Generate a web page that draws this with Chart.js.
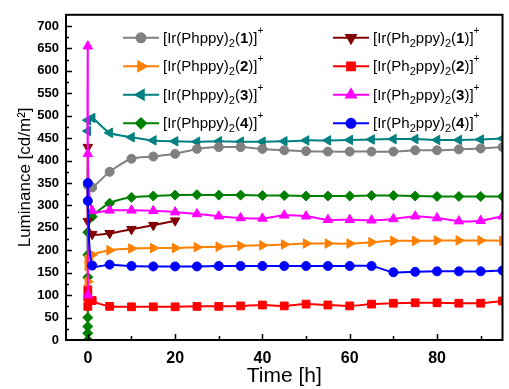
<!DOCTYPE html>
<html>
<head>
<meta charset="utf-8">
<script src="https://cdn.jsdelivr.net/npm/chart.js@4"></script>
<style>
  html, body { margin: 0; padding: 0; background: #fff; }
  #wrap { width: 509px; height: 389px; }
</style>
</head>
<body>
<div id="wrap"><canvas id="lumChart" width="509" height="389"></canvas></div>
<script>
// Time axis (h) shared by every run
const hours = [1, 5, 10, 15, 20, 25, 30, 35, 40, 45, 50, 55, 60, 65, 70, 75, 80, 85, 90, 95];

// Luminance (cd/m2) at those hours
const phppy1 = [340, 375, 404, 409, 415, 426, 430, 430, 426, 423, 421, 420, 420, 420, 420, 423, 423, 425, 427, 430];
const ph2ppy1 = [236, 238, 247, 256, 266]; // device died after ~22 h
const phppy2 = [190, 200, 204, 205, 205, 207, 208, 210, 211, 213, 215, 215, 215, 218, 221, 221, 222, 222, 222, 221];
const ph2ppy2 = [88, 75, 74, 74, 74, 75, 75, 76, 78, 76, 80, 78, 76, 80, 82, 83, 83, 82, 82, 87];
const phppy3 = [495, 462, 452, 445, 443, 442, 443, 442, 442, 443, 445, 445, 446, 447, 448, 448, 446, 446, 447, 449];
const ph2ppy3 = [288, 289, 289, 288, 285, 281, 276, 272, 271, 278, 276, 268, 268, 267, 270, 276, 272, 265, 266, 276];
const phppy4 = [275, 305, 318, 321, 323, 324, 323, 323, 322, 322, 321, 321, 321, 322, 322, 321, 320, 320, 320, 320];
const ph2ppy4 = [166, 168, 165, 164, 164, 164, 165, 165, 165, 165, 165, 165, 165, 165, 151, 152, 153, 153, 153, 155];

// readings taken at switch-on (t = 0)
const phppy1Start = [345];
const ph2ppy1Start = [430, 265];
const phppy2Start = [130, 165, 180];
const ph2ppy2Start = [75, 95, 112];
const phppy3Start = [466, 490];
const ph2ppy3Start = [100, 655, 415];
const phppy4Start = [0, 15, 30, 50, 140, 190, 240];
const ph2ppy4Start = [350, 310];

// axis ticks
const xTicks = [0, 10, 20, 30, 40, 50, 60, 70, 80, 90];
const yTicks = [0, 25, 50, 75, 100, 125, 150, 175, 200, 225, 250, 275, 300, 325, 350,
  375, 400, 425, 450, 475, 500, 525, 550, 575, 600, 625, 650, 675, 700];

const FONT = '"Liberation Sans", Arial, Helvetica, sans-serif';

function complexParts(ligand, n) {
  const lig = ligand === 'Ph2ppy'
    ? [{ t: '[Ir(Ph' }, { t: '2', sub: true }, { t: 'ppy)' }]
    : [{ t: '[Ir(Phppy)' }];
  return lig.concat([{ t: '2', sub: true }, { t: '(' }, { t: String(n), bold: true }, { t: ')]' }, { t: '+', sup: true }]);
}

function makeSet(ligand, num, start, run, color, style, rotation, radius, order) {
  const pts = start.map(v => ({ x: 0, y: v }))
    .concat(run.map((v, i) => ({ x: hours[i], y: v })));
  return {
    label: '[Ir(' + ligand + ')2(' + num + ')]+',
    ligand, num,
    data: pts,
    borderColor: color,
    backgroundColor: color,
    pointStyle: style,
    rotation,
    pointRadius: radius,
    pointBorderWidth: 1,
    borderWidth: 2,
    tension: 0.25,
    order
  };
}

// legend in two columns with sub/superscripts
const richLegend = {
  id: 'richLegend',
  afterDatasetsDraw(chart) {
    const { ctx, chartArea } = chart;
    ctx.save();
    chart.data.datasets.forEach(ds => {
      const col = ds.ligand === 'Phppy' ? 0 : 1;
      const x0 = chartArea.left + (col ? 267 : 57);
      const y = chartArea.top + 23 + (ds.num - 1) * 28.5;
      ctx.strokeStyle = ds.borderColor;
      ctx.fillStyle = ds.borderColor;
      ctx.lineWidth = 2;
      ctx.beginPath();
      ctx.moveTo(x0, y);
      ctx.lineTo(x0 + 36, y);
      ctx.stroke();
      Chart.helpers.drawPoint(ctx, {
        pointStyle: ds.pointStyle, rotation: ds.rotation, radius: ds.pointRadius, borderWidth: 1
      }, x0 + 18, y);

      let x = x0 + 40;
      ctx.fillStyle = '#000';
      ctx.textBaseline = 'alphabetic';
      ctx.textAlign = 'left';
      complexParts(ds.ligand, ds.num).forEach(p => {
        let size = 15, dy = 0;
        if (p.sub) { size = 11; dy = 4; }
        if (p.sup) { size = 10; dy = -9; }
        ctx.font = (p.bold ? 'bold ' : '') + size + 'px ' + FONT;
        ctx.fillText(p.t, x, y + 5 + dy);
        x += ctx.measureText(p.t).width;
      });
    });
    ctx.restore();
  }
};

// box frame + inward ticks
const frameTicks = {
  id: 'frameTicks',
  afterDraw(chart) {
    const { ctx, chartArea: a, scales } = chart;
    const x = scales.x, y = scales.y;
    ctx.save();
    ctx.strokeStyle = '#000';
    ctx.lineWidth = 1.5;
    ctx.beginPath();
    x.ticks.forEach(t => {
      const px = Math.round(x.getPixelForValue(t.value)) + 0.5;
      const len = t.value % 20 === 0 ? 6 : 4;
      ctx.moveTo(px, a.bottom);
      ctx.lineTo(px, a.bottom - len);
    });
    y.ticks.forEach(t => {
      if (t.value <= y.min) return;
      const py = Math.round(y.getPixelForValue(t.value)) + 0.5;
      const len = t.value % 50 === 0 ? 6 : 3;
      ctx.moveTo(a.left, py);
      ctx.lineTo(a.left + len, py);
    });
    ctx.stroke();
    ctx.lineWidth = 2;
    ctx.strokeRect(a.left, a.top, a.right - a.left, a.bottom - a.top);
    ctx.restore();
  }
};

new Chart(document.getElementById('lumChart'), {
  type: 'scatter',
  data: {
    datasets: [
      makeSet('Phppy', 1, phppy1Start, phppy1, '#808080', 'circle', 0, 4.5, 2),
      makeSet('Ph2ppy', 1, ph2ppy1Start, ph2ppy1, '#800000', 'triangle', 180, 5.5, 2),
      makeSet('Phppy', 2, phppy2Start, phppy2, '#FF8000', 'triangle', 90, 5.5, 2),
      makeSet('Ph2ppy', 2, ph2ppy2Start, ph2ppy2, '#FF0000', 'rect', 0, 5.5, 2),
      makeSet('Phppy', 3, phppy3Start, phppy3, '#008080', 'triangle', 270, 5.5, 2),
      makeSet('Ph2ppy', 3, ph2ppy3Start, ph2ppy3, '#FF00FF', 'triangle', 0, 5.5, 1),
      makeSet('Phppy', 4, phppy4Start, phppy4, '#008000', 'rectRot', 0, 5, 2),
      makeSet('Ph2ppy', 4, ph2ppy4Start, ph2ppy4, '#0000FF', 'circle', 0, 4.5, 0)
    ]
  },
  options: {
    responsive: false,
    devicePixelRatio: 1,
    animation: false,
    showLine: true,
    layout: { padding: { top: 14, right: 1.5, left: 0, bottom: 0 } },
    plugins: { legend: { display: false }, tooltip: { enabled: false } },
    scales: {
      x: {
        type: 'linear',
        min: -5,
        max: 95,
        grid: { display: false, drawTicks: false },
        border: { display: false },
        afterBuildTicks: s => { s.ticks = xTicks.map(v => ({ value: v })); },
        ticks: {
          autoSkip: false,
          maxRotation: 0,
          padding: 9,
          color: '#000',
          font: { family: FONT, size: 16, weight: 'bold' },
          callback: v => (v % 20 === 0 ? v : '')
        },
        title: {
          display: true,
          text: 'Time [h]',
          color: '#000',
          font: { family: FONT, size: 21 },
          padding: { top: 0, bottom: 0 }
        },
        afterFit: s => { s.height = 49; }
      },
      y: {
        min: 0,
        max: 725,
        grid: { display: false, drawTicks: false },
        border: { display: false },
        afterBuildTicks: s => { s.ticks = yTicks.map(v => ({ value: v })); },
        ticks: {
          autoSkip: false,
          padding: 7,
          color: '#000',
          font: { family: FONT, size: 13, weight: 'bold' },
          callback: v => (v % 50 === 0 ? v : '')
        },
        title: {
          display: true,
          text: 'Luminance [cd/m²]',
          color: '#000',
          font: { family: FONT, size: 17 },
          padding: { top: 15, bottom: 0 }
        },
        afterFit: s => { s.width = 66; }
      }
    }
  },
  plugins: [richLegend, frameTicks]
});
</script>
</body>
</html>
